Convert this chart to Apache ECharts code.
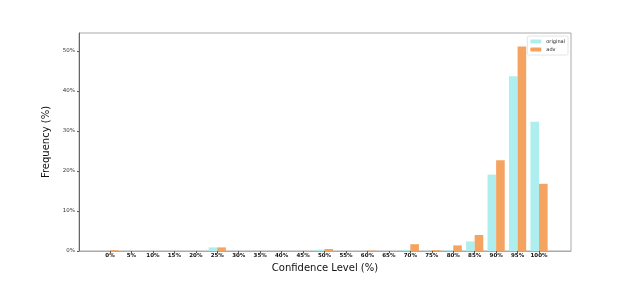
<!DOCTYPE html>
<html><head><meta charset="utf-8">
<script src="https://cdn.jsdelivr.net/npm/echarts@6/dist/echarts.min.js"></script>
<style>html,body{margin:0;padding:0;background:#fff}#c{width:634px;height:282px}</style>
</head><body><div id="c"></div>
<script>
const categories = ['0%','5%','10%','15%','20%','25%','30%','35%','40%','45%','50%','55%','60%','65%','70%','75%','80%','85%','90%','95%','100%'];
const original = [0, 0, 0, 0, 0, 0.9, 0, 0, 0, 0, 0.35, 0, 0, 0, 0.3, 0.05, 0.2, 2.4, 19.1, 43.7, 32.3];
const adv = [0.2, 0, 0, 0, 0, 0.9, 0, 0, 0, 0, 0.5, 0, 0.1, 0, 1.7, 0.2, 1.4, 4.0, 22.7, 51.1, 16.8];
const yTicks = [0, 10, 20, 30, 40, 50];

const idx = categories.map((_, i) => i);
const font = 'DejaVu Sans';
const chart = echarts.init(document.getElementById('c'), null, {renderer: 'canvas'});
chart.setOption({
  animation: false,
  textStyle: {fontFamily: font},
  grid: {left: 79, top: 33, right: 63, bottom: 31, show: true, borderColor: '#aaa', borderWidth: 1},
  legend: {
    right: 66, top: 36, orient: 'vertical', itemWidth: 11, itemHeight: 4, itemGap: 3,
    padding: [3, 3, 3, 3], borderColor: '#ddd', borderWidth: 0.8, borderRadius: 1.5, backgroundColor: '#fff',
    textStyle: {fontSize: 5, fontFamily: font, color: '#222'},
    data: ['original', 'adv']
  },
  xAxis: {
    type: 'value', min: -1.445, max: 21.49,
    name: 'Confidence Level (%)', nameLocation: 'middle', nameGap: 10,
    nameTextStyle: {fontSize: 10, fontFamily: font, color: '#111'},
    axisLine: {show: true, onZero: false, lineStyle: {color: '#aaa', width: 1}},
    axisTick: {show: true, inside: false, length: 2, customValues: idx, lineStyle: {color: '#555'}},
    axisLabel: {customValues: idx, formatter: v => categories[Math.round(v)], fontSize: 5.5, fontWeight: 'bold', color: '#111', margin: 2, fontFamily: font},
    splitLine: {show: false}
  },
  yAxis: {
    type: 'value', min: 0, max: 54.5, interval: 10,
    name: 'Frequency (%)', nameLocation: 'middle', nameGap: 19,
    nameTextStyle: {fontSize: 10, fontFamily: font, color: '#111'},
    axisLine: {show: true, onZero: false, lineStyle: {color: '#666', width: 1}},
    axisTick: {show: true, length: 2, customValues: yTicks, lineStyle: {color: '#555'}},
    axisLabel: {customValues: yTicks, formatter: v => v + '%', fontSize: 5.5, color: '#333', margin: 4, fontFamily: font},
    splitLine: {show: false}
  },
  series: [
    {name: 'original', type: 'bar', data: original.map((v, i) => [i, v]), barWidth: 8.6, barGap: '0%',
     itemStyle: {color: '#AFEEEE'}},
    {name: 'adv', type: 'bar', data: adv.map((v, i) => [i, v]), barWidth: 8.6, barGap: '0%',
     itemStyle: {color: '#F4A460'}}
  ]
});
</script></body></html>
